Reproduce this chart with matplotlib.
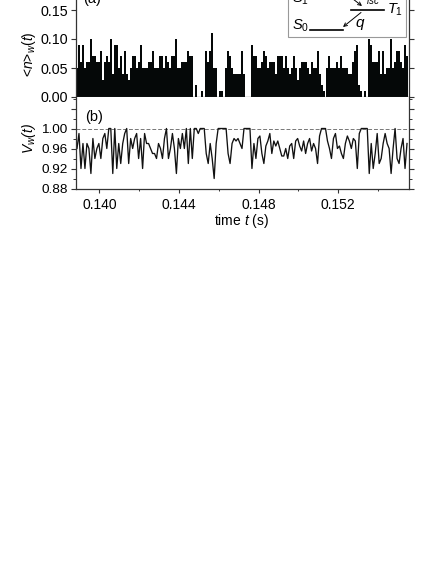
import numpy as np
import matplotlib
matplotlib.use('Agg')
import matplotlib.pyplot as plt
from matplotlib.lines import Line2D
from matplotlib.patches import Rectangle, FancyArrowPatch
from matplotlib.ticker import MultipleLocator

T_START = 0.13882
T_END = 0.15557
BIN = 0.0001

# <n>_w(t), read bin by bin
n_values = [
    .05, .09, .06, .09, .05, .06, .06, .10, .07, .07, .06, .06, .08, .03, .06, .07, .06, .10, .04, .09,
    .09, .05, .07, .04, .08, .04, .03, .05, .07, .07, .05, .06, .09, .05, .05, .05, .06, .06, .08, .05,
    .05, .05, .07, .07, .05, .07, .06, .05, .07, .07, .10, .05, .05, .06, .06, .06, .08, .07, .07, 0,
    .02, 0, 0, .01, 0, .08, .06, .08, .11, .05, .05, 0, .01, .01, 0, .05, .08, .07, .05, .04,
    .04, .04, .04, .08, .04, 0, 0, 0, .09, .07, .07, .05, .05, .06, .08, .07, .05, .06, .06, .06,
    .04, .07, .07, .07, .05, .07, .05, .04, .05, .07, .05, .03, .05, .06, .06, .06, .05, .04, .06, .05,
    .05, .08, .04, .02, .01, 0, .05, .07, .05, .05, .05, .06, .05, .07, .05, .05, .05, .04, .04, .06,
    .08, .09, .02, .01, 0, .01, 0, .10, .09, .06, .06, .06, .08, .04, .08, .04, .05, .05, .10, .05,
    .06, .08, .08, .06, .05, .09, .07,
]

# V_w(t), same bins
v_values = [
    .96, .99, .92, .97, .92, .97, .96, .91, .98, .94, .96, .97, .94, .98, .99, .96, 1.0, 1.0, .91, 1.0,
    .92, .97, .93, .97, .99, 1.0, .93, .98, .96, .98, .99, .94, .98, .92, .99, .97, .97, .96, .95, .95,
    .94, .97, .96, .94, .98, 1.0, .94, .96, .99, .96, .91, .98, .96, .99, .96, 1.0, .93, 1.0, .94, 1.0,
    1.0, .99, 1.0, 1.0, 1.0, .95, .93, .97, .94, .90, .97, 1.0, 1.0, 1.0, 1.0, 1.0, .95, .93, .97, .98,
    .975, .98, .97, .96, 1.0, 1.0, 1.0, 1.0, .92, .97, .94, .98, .985, .95, .93, .965, .975, .99, .95, .975,
    .965, .975, .96, .945, .945, .96, .94, .965, .97, .94, .975, .98, .965, .955, .975, .95, .97, .98, .955, .97,
    .96, .93, .985, 1.0, 1.0, 1.0, .975, .96, .94, .98, .99, .96, .965, .95, .94, .97, .985, .975, .96, .98,
    .975, .92, .99, 1.0, 1.0, 1.0, 1.0, .91, .97, .92, .95, .99, .93, .94, .97, .99, .97, .96, .91, .96,
    1.0, .94, .93, .96, .98, .92, .97,
]

t = T_START + BIN * np.arange(len(n_values))

plt.rcParams['font.family'] = ['Liberation Sans', 'DejaVu Sans']
plt.rcParams['mathtext.fontset'] = 'custom'
plt.rcParams['mathtext.rm'] = 'Liberation Sans'
plt.rcParams['mathtext.it'] = 'Liberation Sans:italic'
plt.rcParams['axes.linewidth'] = 0.9

W, H = 436, 564
EDGE = '#333333'


def fx(x):
    return x / W


def fy(y):
    return 1 - y / H


fig = plt.figure(figsize=(W / 100, H / 100), dpi=100)
ax_a = fig.add_axes([fx(76), fy(97), (409 - 76) / W, 97 / H])
ax_b = fig.add_axes([fx(76), fy(188.5), (409 - 76) / W, 91.5 / H])

# panel a
ax_a.bar(t, n_values, width=BIN, align='edge', color='#050808', linewidth=0)
ax_a.set_xlim(T_START, T_END)
ax_a.set_ylim(0, 97 / 580)
ax_a.yaxis.set_major_locator(MultipleLocator(0.05))
ax_a.yaxis.set_major_formatter('{x:.2f}')
ax_a.set_xticks([])
ax_a.spines['top'].set_visible(False)
ax_a.tick_params(axis='y', which='major', left=True, right=True, length=3.5, width=0.8,
                 labelsize=10.3, pad=2.5, color=EDGE)

# panel b
ax_b.axhline(1.0, color='#777777', linewidth=0.7, linestyle=(0, (4, 2)))
ax_b.plot(t + BIN / 2, v_values, color='#111111', linewidth=0.95)
ax_b.set_xlim(T_START, T_END)
ax_b.set_ylim(0.88, 0.88 + 91.5 / 500)
ax_b.set_yticks([0.88, 0.92, 0.96, 1.00, 1.04])
ax_b.set_yticklabels(['0.88', '0.92', '0.96', '1.00', ''])
ax_b.yaxis.set_minor_locator(MultipleLocator(0.02))
ax_b.set_xticks([0.140, 0.144, 0.148, 0.152])
ax_b.set_xticklabels(['0.140', '0.144', '0.148', '0.152'])
ax_b.xaxis.set_minor_locator(MultipleLocator(0.002))
ax_b.spines['top'].set_visible(False)
ax_b.tick_params(axis='y', which='major', left=True, right=True, length=3.5, width=0.8,
                 labelsize=9.7, pad=2.5, color=EDGE)
ax_b.tick_params(axis='y', which='minor', left=True, right=True, length=2, width=0.7, color=EDGE)
ax_b.tick_params(axis='x', which='major', length=3, width=0.8, labelsize=10, pad=3.5, color=EDGE)
ax_b.tick_params(axis='x', which='minor', length=1.5, width=0.7, color=EDGE)

for ax in (ax_a, ax_b):
    for sp in ax.spines.values():
        sp.set_color(EDGE)

# axis titles and panel labels
fig.text(fx(28.5), fy(54), r'<$\mathit{n}$>$_{\mathit{w}}$($\mathit{t}$)', rotation=90,
         ha='center', va='center', fontsize=10)
fig.text(fx(29), fy(138), r'V$_{\mathit{w}}$($\mathit{t}$)', rotation=90,
         ha='center', va='center', fontsize=10, style='italic')
fig.text(fx(241.5), fy(221), r'time $\mathit{t}$ (s)', ha='center', va='center', fontsize=10)
fig.text(fx(92), fy(-1), '(a)', ha='center', va='center', fontsize=10.5)
fig.text(fx(94.5), fy(117), '(b)', ha='center', va='center', fontsize=10.5)

# level scheme inset
fig.add_artist(Rectangle((fx(287.5), fy(37)), (406 - 287.5) / W, 45 / H, transform=fig.transFigure,
                         facecolor='white', edgecolor='#999999', linewidth=0.8, zorder=3))
fig.add_artist(Line2D([fx(310), fx(343)], [fy(30), fy(30)], color='black', linewidth=1.2, zorder=4))
fig.add_artist(Line2D([fx(351), fx(384)], [fy(9.5), fy(9.5)], color='black', linewidth=1.2, zorder=4))
inset_text = [
    (300.5, 26, r'$\mathit{S}_{\mathit{0}}$', 10.5),
    (395, 10, r'$\mathit{T}_{\mathit{1}}$', 10.5),
    (360, 24.5, r'$\mathit{q}$', 11),
    (300, -1, r'$\mathit{S}_{\mathit{1}}$', 10.5),
    (373, 0, r'$\mathit{isc}$', 7),
]
for x, y, s, size in inset_text:
    fig.text(fx(x), fy(y), s, ha='center', va='center', fontsize=size, zorder=5)

for start, end in [((361, 12.5), (343, 27)), ((353, -1), (362, 6))]:
    fig.add_artist(FancyArrowPatch((fx(start[0]), fy(start[1])), (fx(end[0]), fy(end[1])),
                                   transform=fig.transFigure, arrowstyle='->', color='black',
                                   linewidth=0.7, mutation_scale=6, shrinkA=0, shrinkB=0, zorder=6))

fig.savefig('out.png', dpi=100)
